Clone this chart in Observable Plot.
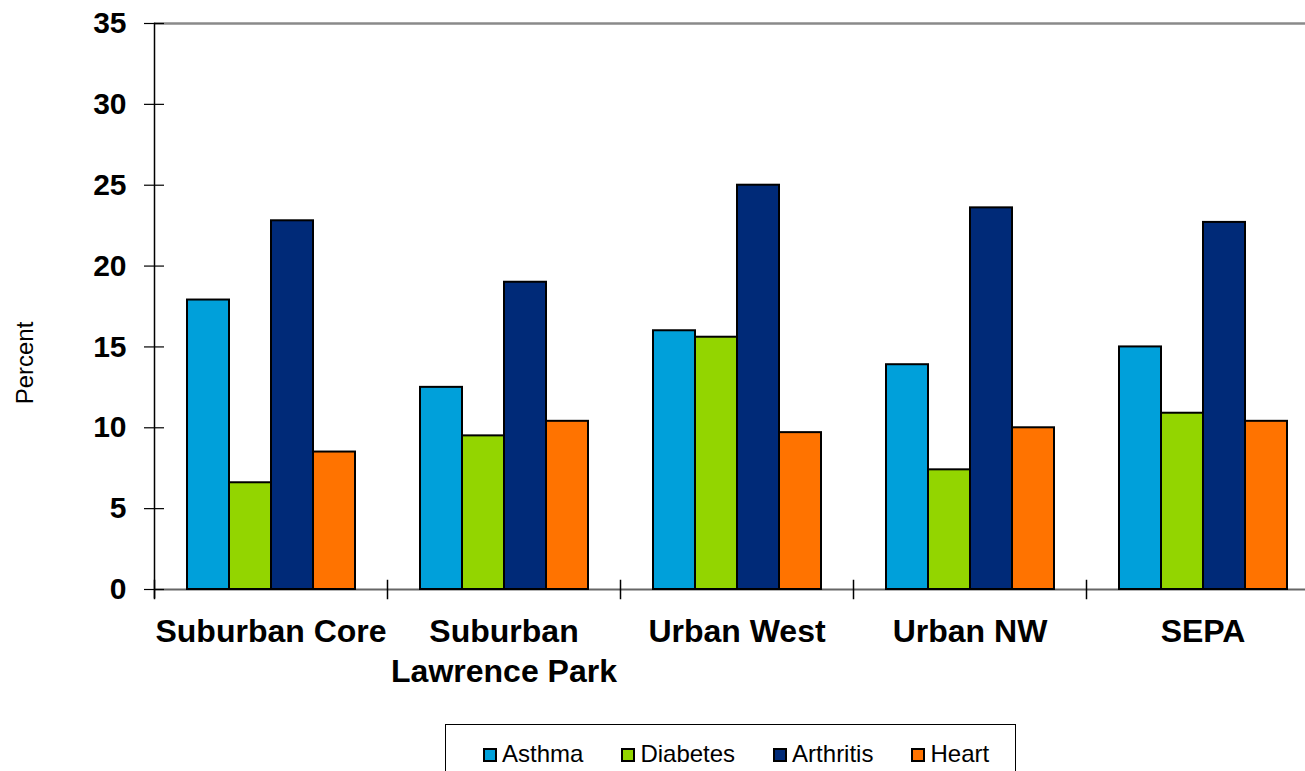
<!DOCTYPE html>
<html>
<head>
<meta charset="utf-8">
<script src="https://cdn.jsdelivr.net/npm/d3@7"></script>
<script src="https://cdn.jsdelivr.net/npm/@observablehq/plot@0.6"></script>
<style>
  html, body { margin: 0; padding: 0; background: #fff; overflow: hidden; }
  #wrap { position: relative; width: 1305px; height: 771px; overflow: hidden; font-family: Arial, "Liberation Sans", sans-serif; }
  #chart { position: absolute; left: 0; top: 0; width: 1320px; }
  #chart svg { max-width: none !important; width: 1320px; height: 700px; }
  #ylabel { position: absolute; left: 25px; top: 363px; transform: translate(-50%, -50%) rotate(-90deg); font-size: 24px; color: #000; white-space: nowrap; }
  #legend { position: absolute; left: 445px; top: 724px; width: 571px; height: 70px; border: 1px solid #000; box-sizing: border-box; background: #fff; }
  #legend .items { position: absolute; left: 37px; top: 15px; display: flex; align-items: baseline; font-size: 24px; white-space: nowrap; }
  #legend .item { display: flex; align-items: baseline; margin-right: 38px; }
  #legend .sw { display: inline-block; width: 14px; height: 14px; box-sizing: border-box; border: 2px solid #000; margin-right: 5px; }
</style>
</head>
<body>
<div id="wrap">
  <div id="chart"></div>
  <div id="ylabel">Percent</div>
  <div id="legend"><div class="items"></div></div>
</div>
<script>
const categories = ["Suburban Core", "Suburban\nLawrence Park", "Urban West", "Urban NW", "SEPA"];
const series = ["Asthma", "Diabetes", "Arthritis", "Heart"];
const colors = ["#00A0DA", "#93D500", "#002A78", "#FF7300"];
const asthma = [17.9, 12.5, 16.0, 13.9, 15.0];
const diabetes = [6.6, 9.5, 15.6, 7.4, 10.9];
const arthritis = [22.8, 19.0, 25.0, 23.6, 22.7];
const heart = [8.5, 10.4, 9.7, 10.0, 10.4];
const yTicks = [0, 5, 10, 15, 20, 25, 30, 35];

const valuesBySeries = [asthma, diabetes, arthritis, heart];
const data = [];
categories.forEach((c, i) => {
  series.forEach((s, k) => {
    data.push({category: c, series: s, value: valuesBySeries[k][i]});
  });
});

const font = 'Arial, "Liberation Sans", sans-serif';

const chart = Plot.plot({
  width: 1320,
  height: 700,
  marginLeft: 153,
  marginRight: 1,
  marginTop: 23,
  marginBottom: 111,
  style: {fontFamily: font, background: "transparent", overflow: "visible", maxWidth: "none"},
  fx: {domain: categories, padding: 0, label: null},
  x: {domain: series, paddingInner: 0, paddingOuter: 0.755, axis: null},
  y: {domain: [0, 35], label: null, axis: null},
  color: {domain: series, range: colors},
  marks: [
    Plot.ruleY([35], {stroke: "#8a8a8a", strokeWidth: 2.5}),
    Plot.ruleY([0], {stroke: "#666", strokeWidth: 2}),
    Plot.barY(data, {fx: "category", x: "series", y: "value", fill: "series", stroke: "#000", strokeWidth: 2}),
    Plot.frame({anchor: "left", facetAnchor: "left", stroke: "#000", strokeWidth: 1.5, insetBottom: -8}),
    Plot.frame({anchor: "left", stroke: "#000", strokeWidth: 1.5, insetTop: 557, insetBottom: -9}),
    Plot.axisY({ticks: yTicks, tickSize: 20, dx: 10, tickPadding: 18, fontSize: 30, fontWeight: "bold", tickFormat: d => String(d), label: null, stroke: "#000", strokeWidth: 1.2}),
    Plot.axisFx({anchor: "bottom", tickSize: 0, tickPadding: 24, fontSize: 32, fontWeight: "bold", lineHeight: 1.25, label: null})
  ]
});
document.getElementById("chart").appendChild(chart);

const items = document.querySelector("#legend .items");
series.forEach((s, k) => {
  const it = document.createElement("span");
  it.className = "item";
  const sw = document.createElement("span");
  sw.className = "sw";
  sw.style.background = colors[k];
  const t = document.createElement("span");
  t.textContent = s;
  it.appendChild(sw);
  it.appendChild(t);
  items.appendChild(it);
});
</script>
</body>
</html>
